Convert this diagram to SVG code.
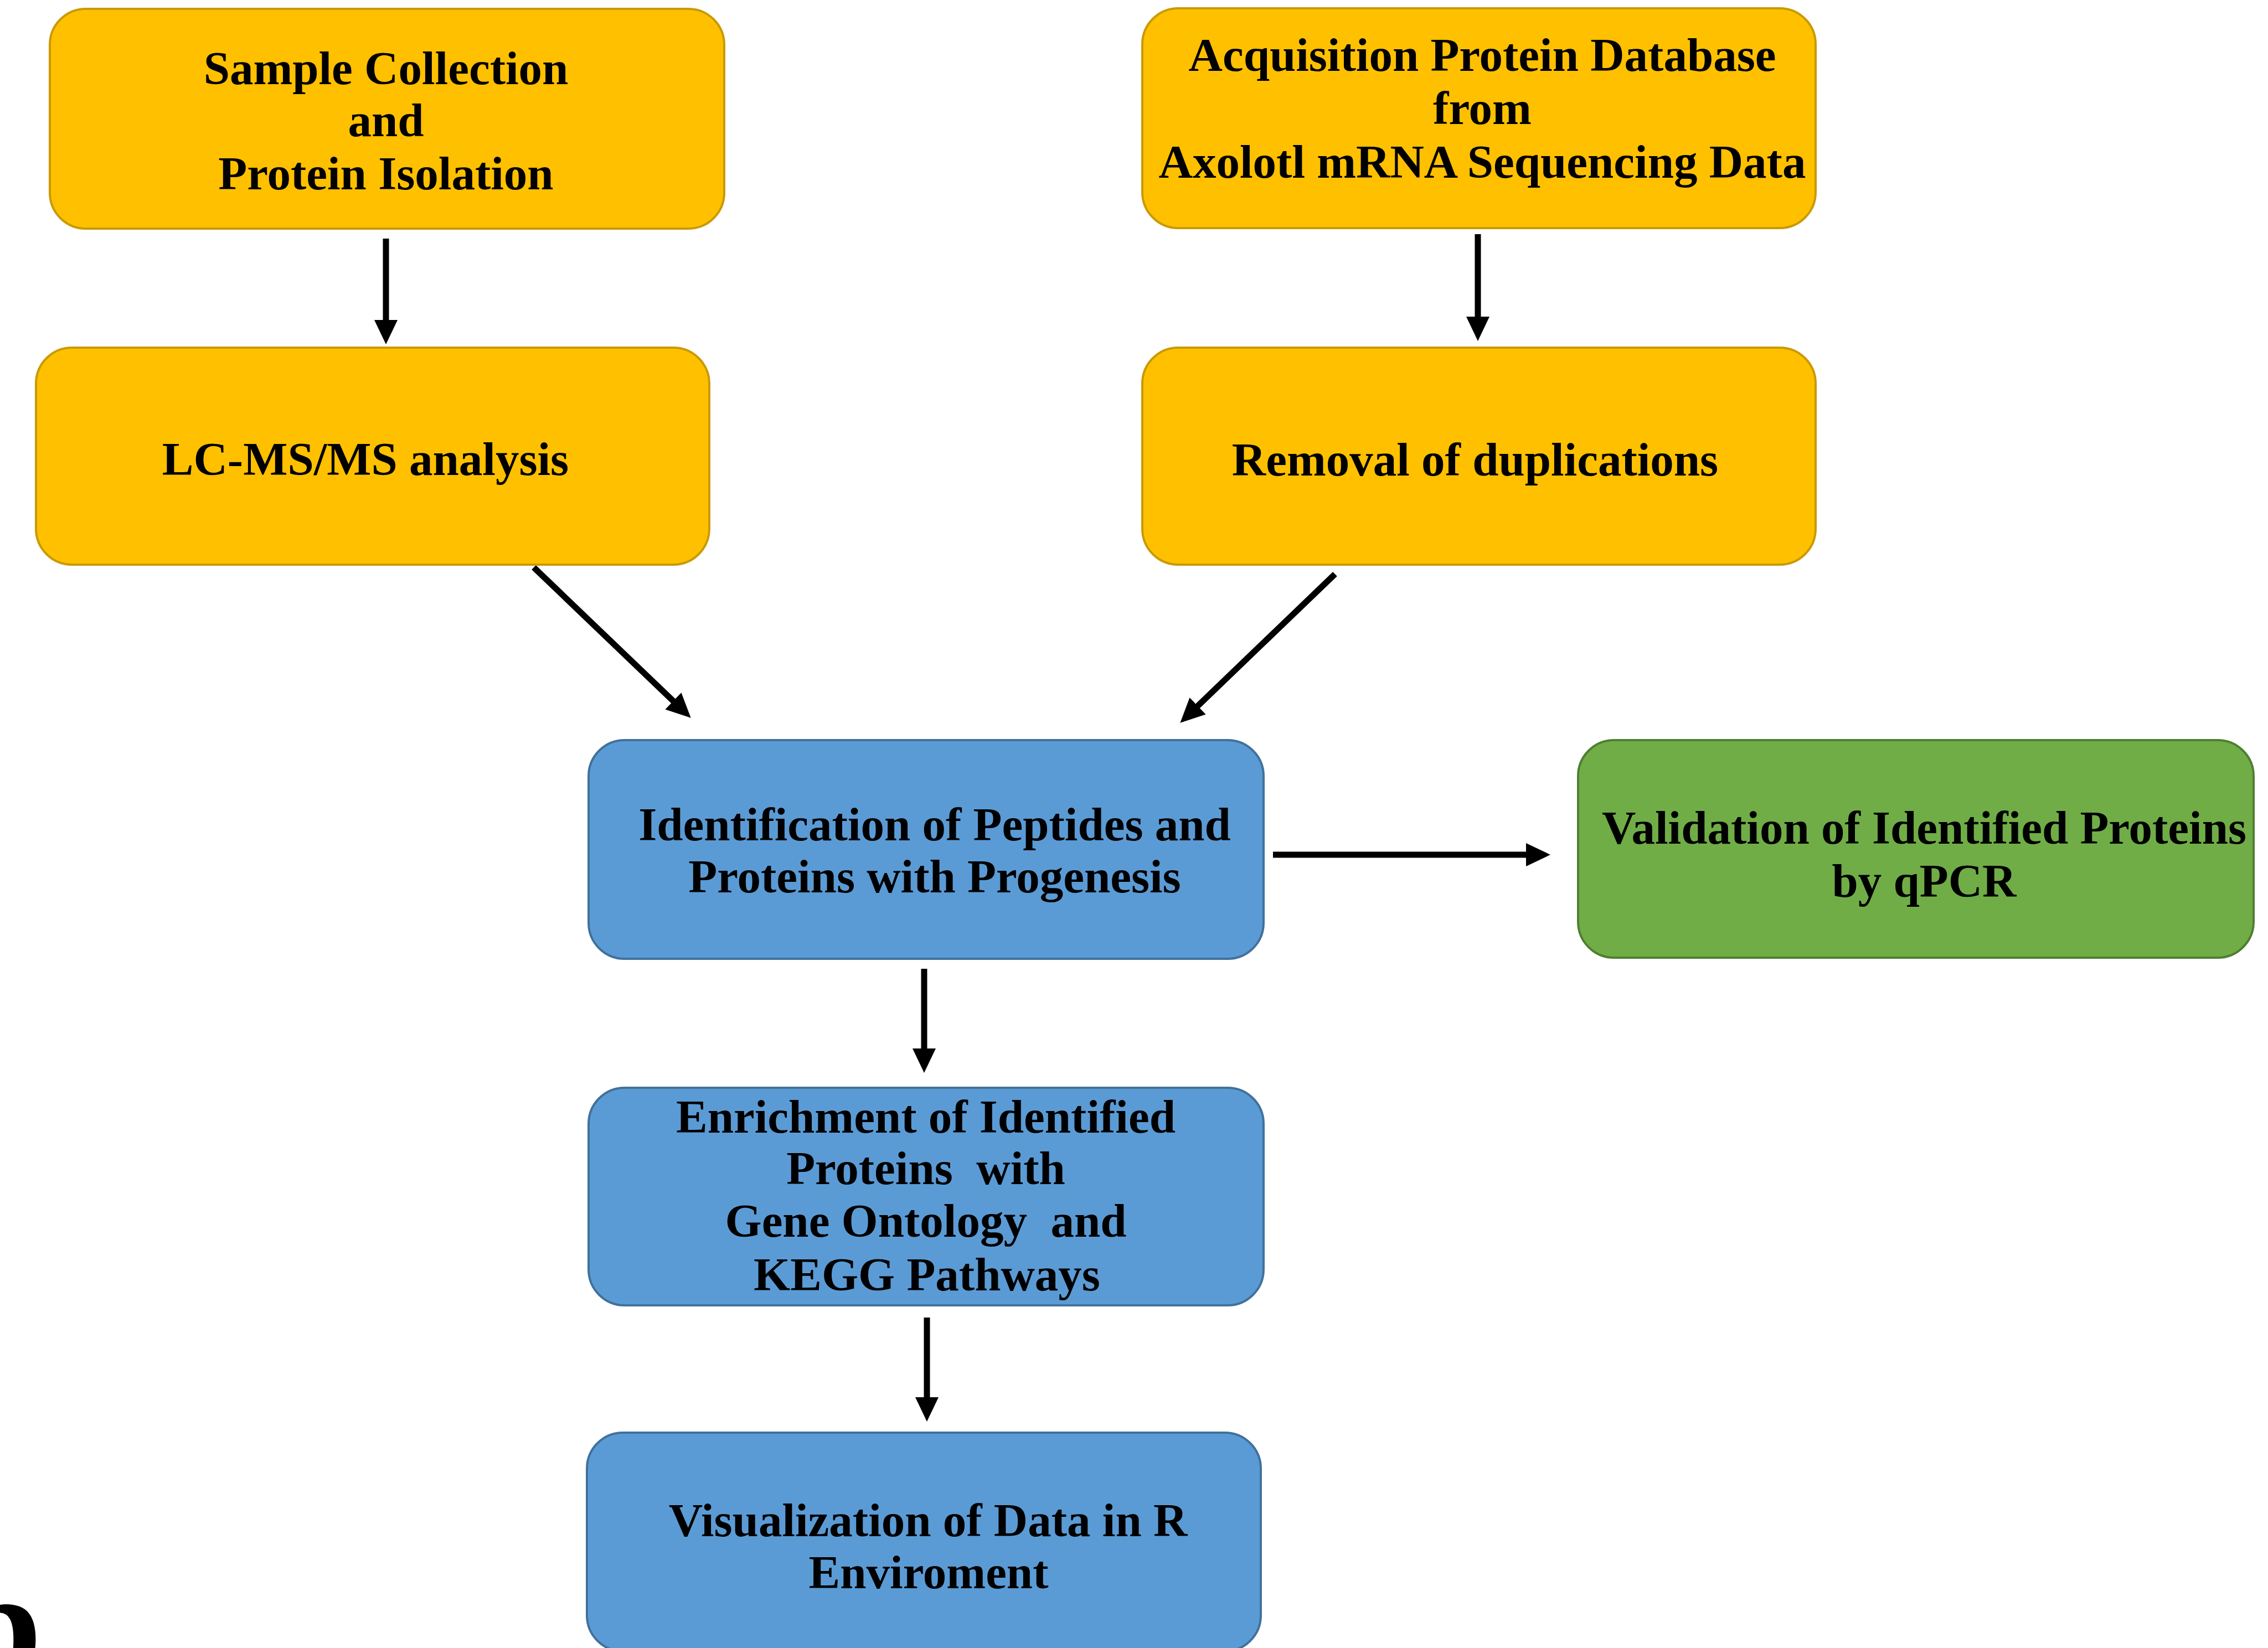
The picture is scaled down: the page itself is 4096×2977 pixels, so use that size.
<svg xmlns="http://www.w3.org/2000/svg" width="4096" height="2977" viewBox="0 0 4096 2977">
<style>
.y{fill:#FFC000;stroke:#C99A06;stroke-width:4}
.b{fill:#5B9BD5;stroke:#41719C;stroke-width:4}
.g{fill:#70AD47;stroke:#507E32;stroke-width:4}
text{font-family:"Liberation Serif","Times New Roman",serif;font-weight:bold;font-size:85px;fill:#000;text-anchor:middle;white-space:pre}
.c{stroke:#000;stroke-width:11;fill:none;marker-end:url(#ah)}
</style>
<defs>
<marker id="ah" markerUnits="userSpaceOnUse" markerWidth="46" markerHeight="42" refX="14" refY="21" orient="auto">
<path d="M0,0 L44,21 L0,42 z" fill="#000"/>
</marker>
</defs>
<rect width="4096" height="2977" fill="#fff"/>
<g id="connectors">
<line class="c" x1="697" y1="431" x2="697" y2="592"/>
<line class="c" x1="2669" y1="423" x2="2669" y2="586"/>
<line class="c" x1="964" y1="1025" x2="1226" y2="1276"/>
<line class="c" x1="2411" y1="1037" x2="2153" y2="1285"/>
<line class="c" x1="2299" y1="1544" x2="2770" y2="1544"/>
<line class="c" x1="1669" y1="1750" x2="1669" y2="1908"/>
<line class="c" x1="1674" y1="2380" x2="1674" y2="2538"/>
</g>
<g id="sample">
<rect class="y" x="90" y="16" width="1218" height="397" rx="65"/>
<text x="697" y="152">Sample Collection</text>
<text x="697" y="246">and</text>
<text x="697" y="342">Protein Isolation</text>
</g>
<g id="acquisition">
<rect class="y" x="2063" y="15" width="1216" height="397" rx="65"/>
<text x="2677" y="128">Acquisition Protein Database</text>
<text x="2677" y="224">from</text>
<text x="2677" y="321">Axolotl mRNA Sequencing Data</text>
</g>
<g id="lcms">
<rect class="y" x="65" y="628" width="1216" height="392" rx="65"/>
<text x="660" y="858">LC-MS/MS analysis</text>
</g>
<g id="removal">
<rect class="y" x="2063" y="628" width="1216" height="392" rx="65"/>
<text x="2664" y="859">Removal of duplications</text>
</g>
<g id="identification">
<rect class="b" x="1063" y="1337" width="1219" height="395" rx="65"/>
<text x="1688" y="1518">Identification of Peptides and</text>
<text x="1688" y="1612">Proteins with Progenesis</text>
</g>
<g id="validation">
<rect class="g" x="2850" y="1337" width="1220" height="393" rx="65"/>
<text x="3475" y="1524">Validation of Identified Proteins</text>
<text x="3475" y="1620">by qPCR</text>
</g>
<g id="enrichment">
<rect class="b" x="1063" y="1965" width="1219" height="393" rx="65"/>
<text x="1672" y="2046">Enrichment of Identified</text>
<text x="1672" y="2139">Proteins  with</text>
<text x="1672" y="2234">Gene Ontology  and</text>
<text x="1674" y="2331">KEGG Pathways</text>
</g>
<g id="visualization">
<rect class="b" x="1060" y="2588" width="1217" height="395" rx="65"/>
<text x="1676" y="2775">Visualization of Data in R</text>
<text x="1677" y="2869">Enviroment</text>
</g>
<text x="-80" y="3030" style="font-size:280px;text-anchor:start">b</text>
</svg>
